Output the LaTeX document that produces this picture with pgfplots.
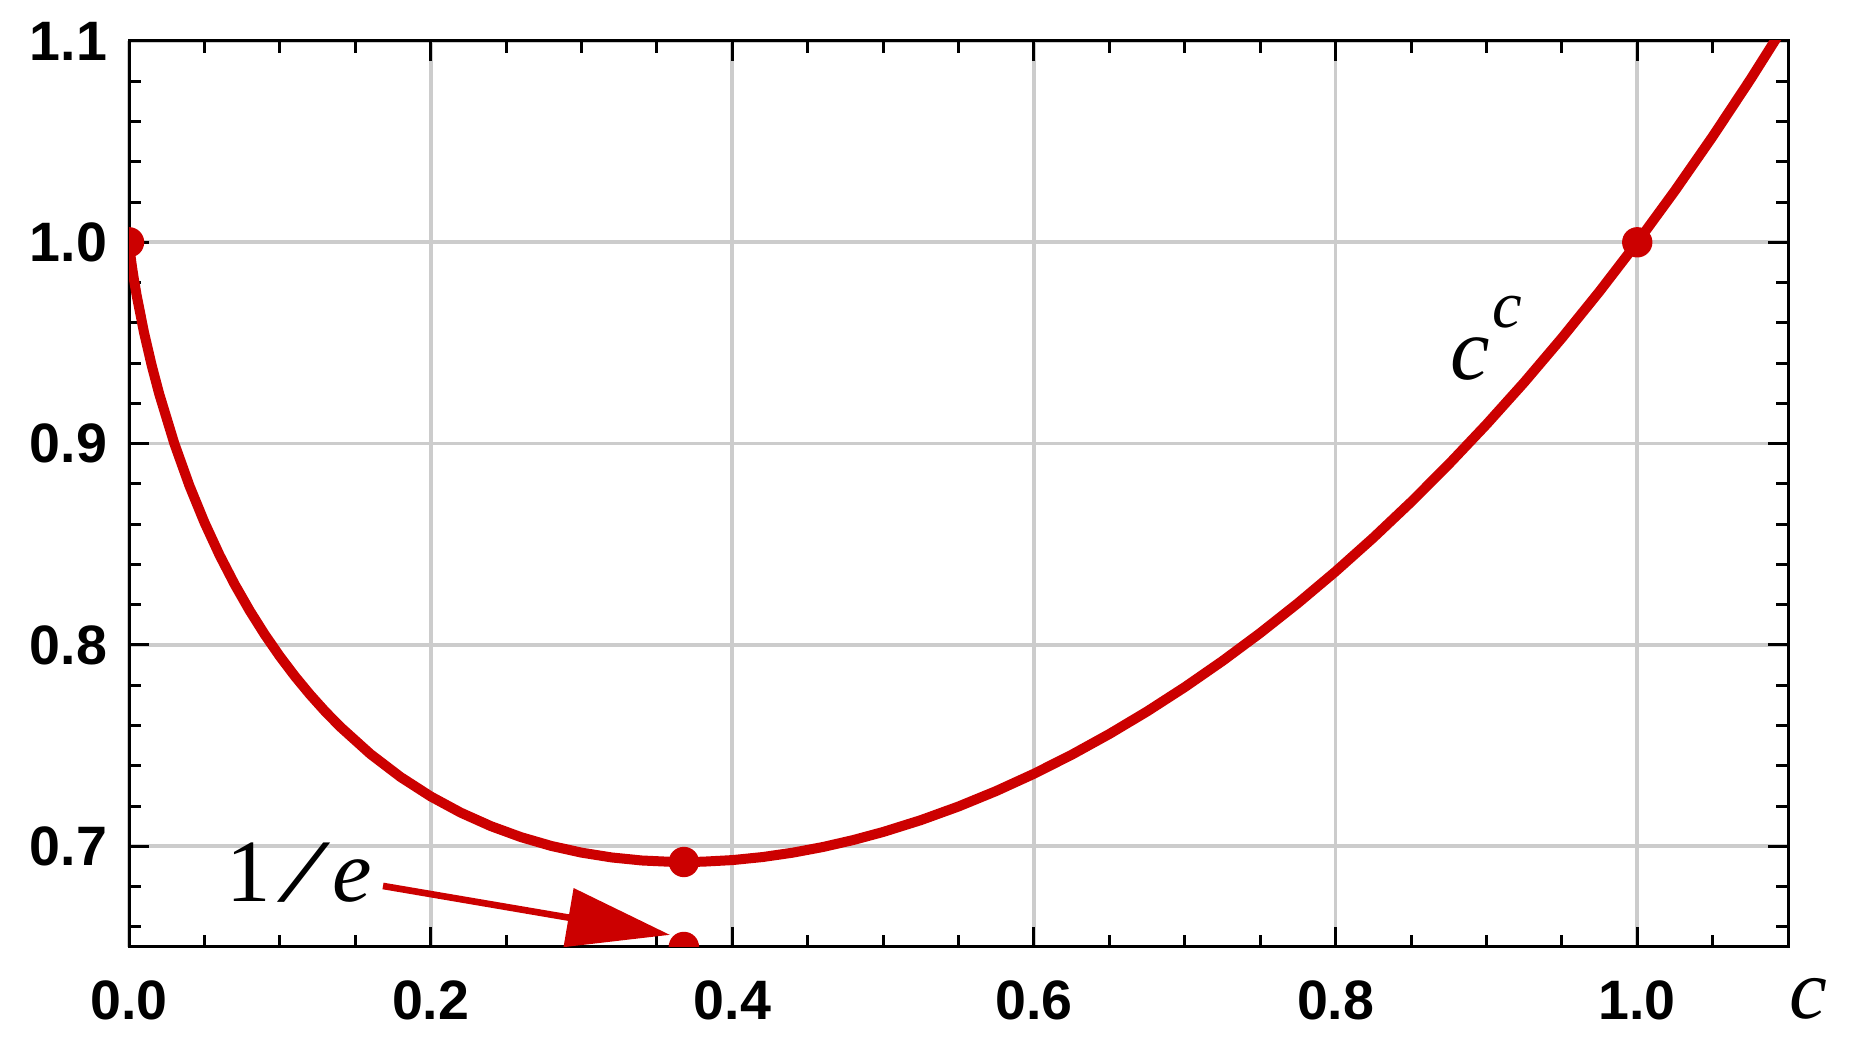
\documentclass[border=0pt]{standalone}
\usepackage{fontspec}
\setmainfont{Liberation Serif}
\newfontfamily\tickfont{Liberation Sans}
\usepackage{pgfplots}
\pgfplotsset{compat=1.18}
\usetikzlibrary{arrows.meta}
\definecolor{cc}{RGB}{204,0,0}
\begin{document}
\begin{tikzpicture}
\begin{axis}[name=ax, scale only axis, width=448.1pt, height=244.7pt,
  xmin=0, xmax=1.1, ymin=0.65, ymax=1.1,
  xtick={0,0.2,0.4,0.6,0.8,1.0}, xticklabels={0.0,0.2,0.4,0.6,0.8,1.0},
  ytick={0.7,0.8,0.9,1.0,1.1}, yticklabels={0.7,0.8,0.9,1.0,1.1},
  minor xtick={0.05,0.1,0.15,0.25,0.3,0.35,0.45,0.5,0.55,0.65,0.7,0.75,0.85,0.9,0.95,1.05},
  minor ytick={0.66,0.68,0.72,0.74,0.76,0.78,0.82,0.84,0.86,0.88,0.92,0.94,0.96,0.98,1.02,1.04,1.06,1.08},
  grid=major, major grid style={draw=gray!40, line width=1pt},
  tick align=inside, xtick pos=both, ytick pos=both,
  major tick length=5.4pt, minor tick length=3.3pt,
  every tick/.style={black, line width=0.8pt},
  axis line style={line width=0.8pt},
  tick label style={font=\tickfont\bfseries\fontsize{15}{18}\selectfont, inner sep=0pt},
  xticklabel style={yshift=-8.9pt},
  yticklabel style={xshift=-5.7pt},
  /pgf/number format/assume math mode=true,
  clip marker paths=true,
  xlabel={\textit{c}},
  xlabel style={at={(axis description cs:1,0)}, anchor=center, xshift=5.4pt, yshift=-14pt, inner sep=0pt, font=\fontsize{23}{26}\selectfont},
]
\addplot[cc, line width=2.7pt, line join=round] coordinates {
(0,1) (0.0002,0.99830) (0.0005,0.99621) (0.001,0.99312) (0.002,0.98765) (0.003,0.98272)
(0.005,0.97386) (0.01,0.95500) (0.015,0.93895) (0.02,0.92474) (0.03,0.90015) (0.04,0.87919)
(0.05,0.86089) (0.06,0.84467) (0.07,0.83015) (0.08,0.81705) (0.09,0.80516) (0.10,0.79433)
(0.11,0.78443) (0.12,0.77536) (0.13,0.76703) (0.14,0.75938) (0.16,0.74586) (0.18,0.73443)
(0.20,0.72478) (0.22,0.71669)
(0.24,0.70999) (0.26,0.70452) (0.28,0.70017) (0.30,0.69685) (0.32,0.69446) (0.34,0.69295)
(0.36,0.69226) (0.36788,0.69220) (0.38,0.69234) (0.40,0.69314) (0.42,0.69465) (0.44,0.69682)
(0.46,0.69963) (0.48,0.70307) (0.50,0.70711) (0.525,0.71299) (0.55,0.71978) (0.575,0.72746)
(0.60,0.73602) (0.625,0.74546) (0.65,0.75578) (0.675,0.76697)
(0.70,0.77906) (0.725,0.79204) (0.75,0.80593) (0.775,0.82075) (0.80,0.83651) (0.825,0.85325)
(0.85,0.87098) (0.875,0.88973) (0.90,0.90953) (0.925,0.93038) (0.95,0.95244) (0.975,0.97562)
(1.00,1.00000) (1.025,1.02563) (1.05,1.05256) (1.075,1.08085) (1.10,1.11053)
};
\addplot[cc, only marks, mark=*, mark size=3.9pt] coordinates {
(0,1) (0.36788,0.69220) (1,1) (0.36788,0.65)
};
\draw[cc, line width=1.8pt, -{Triangle[length=27.8pt,width=15.7pt]}] (axis cs:0.1684,0.6803) -- (axis cs:0.3587,0.656);
\node[anchor=base west, inner sep=0pt, font=\fontsize{24}{28}\selectfont] at (axis cs:0.0644,0.6728) {1\hspace{3.4pt}\scalebox{1.5}[1]{\textit{/}}\hspace{0.3pt}\textit{e}};
\node[anchor=base west, inner sep=0pt, font=\fontsize{24}{28}\selectfont] at (axis cs:0.8759,0.9318) {\textit{c}\hspace{0.5pt}\raisebox{14pt}{\fontsize{18}{20}\selectfont\textit{c}}};
\end{axis}
\path ([shift={(-34.85pt,-30.25pt)}]ax.south west) rectangle ([shift={(17pt,11.07pt)}]ax.north east);
\end{tikzpicture}
\end{document}
